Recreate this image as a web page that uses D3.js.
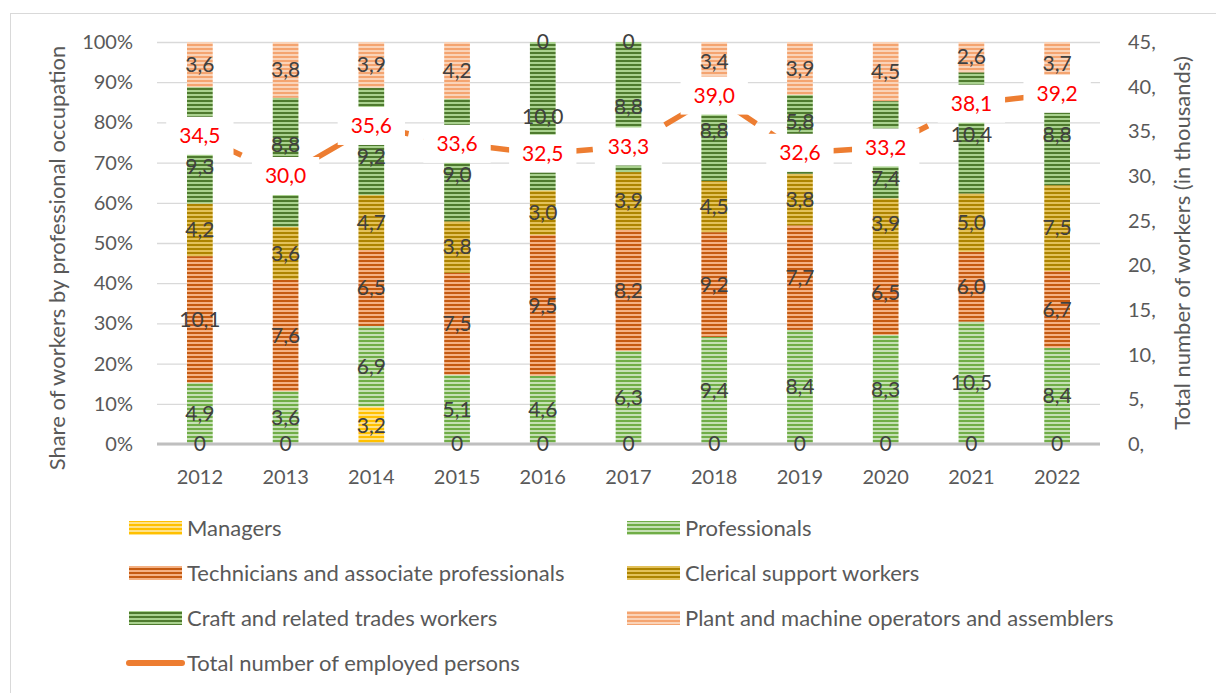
<!DOCTYPE html>
<html>
<head>
<meta charset="utf-8">
<script src="https://cdn.jsdelivr.net/npm/d3@7"></script>
<style>
  body { margin: 0; background: #fff; }
  text { font-family: Lato, "Open Sans", sans-serif; }
</style>
</head>
<body>
<div id="chart"></div>
<script>
var years = ["2012", "2013", "2014", "2015", "2016", "2017", "2018", "2019", "2020", "2021", "2022"];
var seriesNames = [
  "Managers",
  "Professionals",
  "Technicians and associate professionals",
  "Clerical support workers",
  "Craft and related trades workers",
  "Plant and machine operators and assemblers"
];
var managers      = [0, 0, 3.2, 0, 0, 0, 0, 0, 0, 0, 0];
var professionals = [4.9, 3.6, 6.9, 5.1, 4.6, 6.3, 9.4, 8.4, 8.3, 10.5, 8.4];
var technicians   = [10.1, 7.6, 6.5, 7.5, 9.5, 8.2, 9.2, 7.7, 6.5, 6.0, 6.7];
var clerical      = [4.2, 3.6, 4.7, 3.8, 3.0, 3.9, 4.5, 3.8, 3.9, 5.0, 7.5];
var craft         = [9.3, 8.8, 9.2, 9.0, 10.0, 8.8, 8.8, 5.8, 7.4, 10.4, 8.8];
var plant         = [3.6, 3.8, 3.9, 4.2, 0, 0, 3.4, 3.9, 4.5, 2.6, 3.7];
var totalName = "Total number of employed persons";
var totalEmployed = [34.5, 30.0, 35.6, 33.6, 32.5, 33.3, 39.0, 32.6, 33.2, 38.1, 39.2];
var rightTicks = [0, 5, 10, 15, 20, 25, 30, 35, 40, 45];

// stripe colours: [dark line, light line]
var stripes = [
  ["#FFC000", "#FFE28A"],
  ["#70AD47", "#C5E0B4"],
  ["#C55A11", "#F4B183"],
  ["#AD8400", "#E3C15A"],
  ["#4E7A2E", "#A9D18E"],
  ["#F4A470", "#FAD3B8"]
];

var svgWidth = 1216, svgHeight = 693;
var plot = { left: 157, right: 1100, top: 42, bottom: 444 };

var svg = d3.select("#chart").append("svg")
  .attr("width", svgWidth)
  .attr("height", svgHeight);

var defs = svg.append("defs");
stripes.forEach(function(c, i) {
  var p = defs.append("pattern")
    .attr("id", "stripe" + i)
    .attr("patternUnits", "userSpaceOnUse")
    .attr("width", 8).attr("height", 4);
  p.append("rect").attr("width", 8).attr("height", 4).attr("fill", c[1]);
  p.append("rect").attr("width", 8).attr("height", 2).attr("fill", c[0]);
});

svg.append("rect")
  .attr("x", 10.5).attr("y", 13.5)
  .attr("width", svgWidth).attr("height", svgHeight)
  .attr("fill", "none").attr("stroke", "#D9D9D9");

var allSeries = [managers, professionals, technicians, clerical, craft, plant];
var rows = years.map(function(y, i) {
  var r = { year: y };
  seriesNames.forEach(function(n, k) { r[n] = allSeries[k][i]; });
  return r;
});
var stacked = d3.stack().keys(seriesNames).offset(d3.stackOffsetExpand)(rows);

var x = d3.scaleBand().domain(years)
  .range([plot.left, plot.right])
  .paddingInner(0.7).paddingOuter(0.35);
var y = d3.scaleLinear().domain([0, 1]).range([plot.bottom, plot.top]);
var yRight = d3.scaleLinear().domain([0, 45]).range([plot.bottom, plot.top]);

// gridlines + left axis
var leftAxis = d3.axisLeft(y).ticks(10).tickFormat(d3.format(".0%"))
  .tickSize(-(plot.right - plot.left)).tickPadding(24);
var gy = svg.append("g").attr("transform", "translate(" + plot.left + ",0)").call(leftAxis);
gy.select(".domain").remove();
gy.selectAll(".tick line").attr("stroke", "#D9D9D9").attr("stroke-width", 1.3);
gy.selectAll(".tick text").attr("fill", "#595959").style("font-size", "20px");

var rightAxis = d3.axisRight(yRight).tickValues(rightTicks)
  .tickFormat(function(d) { return d + ","; }).tickSize(0).tickPadding(28);
var gr = svg.append("g").attr("transform", "translate(" + plot.right + ",0)").call(rightAxis);
gr.select(".domain").remove();
gr.selectAll(".tick text").attr("fill", "#595959").style("font-size", "20px");

// bars
var layers = svg.selectAll(".layer").data(stacked).enter().append("g")
  .attr("class", "layer")
  .attr("fill", function(d, i) { return "url(#stripe" + i + ")"; });
layers.selectAll("rect").data(function(d) { return d; }).enter().append("rect")
  .attr("x", function(d) { return x(d.data.year); })
  .attr("width", x.bandwidth())
  .attr("y", function(d) { return y(d[1]); })
  .attr("height", function(d) { return y(d[0]) - y(d[1]); });

// baseline
svg.append("line")
  .attr("x1", plot.left).attr("x2", plot.right)
  .attr("y1", plot.bottom).attr("y2", plot.bottom)
  .attr("stroke", "#BFBFBF").attr("stroke-width", 3);

// x axis labels
var bottomAxis = d3.axisBottom(x).tickSize(0).tickPadding(26);
var gx = svg.append("g").attr("transform", "translate(0," + plot.bottom + ")").call(bottomAxis);
gx.select(".domain").remove();
gx.selectAll(".tick text").attr("fill", "#595959").style("font-size", "20px");

// line label boxes are known first so bar labels can step aside
var boxHalfH = 19, barLabHalf = 12;
var boxCenters = totalEmployed.map(function(v) { return yRight(v); });

var fmt = function(v) { return v === 0 ? "0" : d3.format(".1f")(v).replace(".", ","); };

stacked.forEach(function(layer, k) {
  layer.forEach(function(d, i) {
    var v = allSeries[k][i];
    var cy = (y(d[0]) + y(d[1])) / 2;
    var bc = boxCenters[i];
    var gap = boxHalfH + barLabHalf;
    if (Math.abs(cy - bc) < gap - 1) {
      cy = cy > bc ? bc + gap : bc - gap;
    }
    svg.append("text")
      .attr("x", x(d.data.year) + x.bandwidth() / 2)
      .attr("y", cy)
      .attr("dy", "0.35em")
      .attr("text-anchor", "middle")
      .attr("fill", "#404040")
      .style("font-size", "21px")
      .text(fmt(v));
  });
});

// total line
var line = d3.line()
  .x(function(d, i) { return x(years[i]) + x.bandwidth() / 2; })
  .y(function(d) { return yRight(d); });
svg.append("path")
  .datum(totalEmployed)
  .attr("d", line)
  .attr("fill", "none")
  .attr("stroke", "#ED7D31")
  .attr("stroke-width", 5.5)
  .attr("stroke-dasharray", "46,16");

var lineLabels = svg.selectAll(".totlab").data(totalEmployed).enter().append("g")
  .attr("class", "totlab");
lineLabels.each(function(v, i) {
  var g = d3.select(this);
  var t = g.append("text")
    .attr("x", x(years[i]) + x.bandwidth() / 2)
    .attr("y", yRight(v))
    .attr("dy", "0.35em")
    .attr("text-anchor", "middle")
    .attr("fill", "#FF0000")
    .style("font-size", "21px")
    .text(fmt(v));
  var b = t.node().getBBox();
  g.insert("rect", "text")
    .attr("x", b.x - 13).attr("width", b.width + 26)
    .attr("y", yRight(v) - boxHalfH).attr("height", 2 * boxHalfH)
    .attr("fill", "#fff");
});

// axis titles
svg.append("text")
  .attr("transform", "translate(65," + 258 + ") rotate(-90)")
  .attr("text-anchor", "middle")
  .attr("fill", "#595959")
  .style("font-size", "22px")
  .text("Share of workers by professional occupation");
svg.append("text")
  .attr("transform", "translate(1190," + 243 + ") rotate(-90)")
  .attr("text-anchor", "middle")
  .attr("fill", "#595959")
  .style("font-size", "22px")
  .text("Total number of workers (in thousands)");

// legend
var legendCols = [129, 627];
var legendRows = [528, 573, 618, 663];
seriesNames.forEach(function(n, i) {
  var lx = legendCols[i % 2], ly = legendRows[Math.floor(i / 2)];
  svg.append("rect")
    .attr("x", lx).attr("y", ly - 7)
    .attr("width", 53).attr("height", 14)
    .attr("fill", "url(#stripe" + i + ")");
  svg.append("text")
    .attr("x", lx + 58).attr("y", ly)
    .attr("dy", "0.35em")
    .attr("fill", "#595959")
    .style("font-size", "22px")
    .text(n);
});
svg.append("line")
  .attr("x1", legendCols[0]).attr("x2", legendCols[0] + 53)
  .attr("y1", legendRows[3]).attr("y2", legendRows[3])
  .attr("stroke", "#ED7D31").attr("stroke-width", 6)
  .attr("stroke-linecap", "round");
svg.append("text")
  .attr("x", legendCols[0] + 58).attr("y", legendRows[3])
  .attr("dy", "0.35em")
  .attr("fill", "#595959")
  .style("font-size", "22px")
  .text(totalName);
</script>
</body>
</html>
